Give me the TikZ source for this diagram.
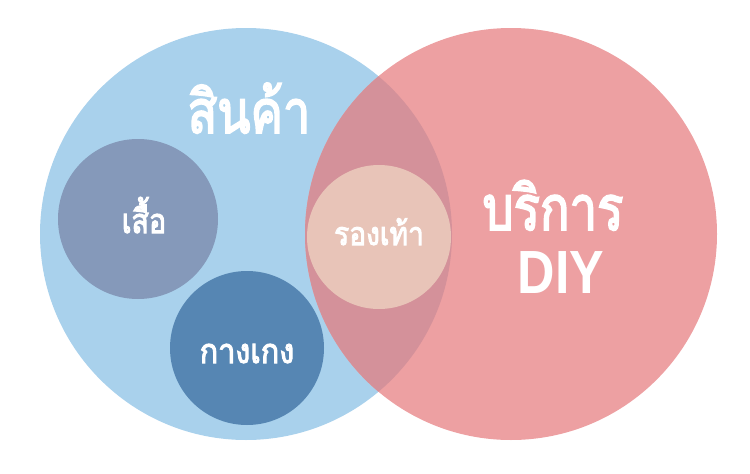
\documentclass[tikz,border=0pt]{standalone}
\usepackage{graphicx}
\usepackage{fontspec}
\newfontfamily\thaifont[Script=Thai, FakeBold=3.2]{Loma}
\newfontfamily\latinfont{Liberation Sans}
\usetikzlibrary{positioning}
\definecolor{goodsblue}{HTML}{A9D1EC}
\definecolor{diypink}{HTML}{EDA0A2}
\definecolor{bothrose}{HTML}{D4919A}
\definecolor{shirtgrey}{HTML}{8599BA}
\definecolor{pantsblue}{HTML}{5686B3}
\definecolor{shoepeach}{HTML}{E8C4B8}
\tikzset{
    vlabel/.style={text=white, inner sep=0, align=center, anchor=base, text depth=0pt}
}
\begin{document}
\begin{tikzpicture}[x=1pt, y=-1pt]
    \useasboundingbox (0,0) rectangle (750,474);

    \coordinate (goods) at (246,234);
    \coordinate (diy) at (511,234);
    \coordinate (shirt) at (138,219);
    \coordinate (pants) at (247,348);
    \coordinate (shoes) at (379,237);

    % big sets
    \fill[goodsblue] (goods) circle (206);
    \fill[diypink] (diy) circle (206);

    % overlap
    \begin{scope}
        \clip (goods) circle (206);
        \fill[bothrose] (diy) circle (206);
    \end{scope}

    % small sets
    \foreach \point/\r/\co in {
        shirt/80/shirtgrey,
        pants/77/pantsblue,
        shoes/72/shoepeach}{
        \fill[\co] (\point) circle (\r);
    }

    % labels
    \foreach \name/\x/\y/\size/\sq/\txt in {
        tgoods/249/133/60/0.81/สินค้า,
        tshirt/144/233/34/0.84/เสื้อ,
        tpants/247/363/34/0.9/กางเกง,
        tshoes/379/245/32/0.88/รองเท้า,
        tdiy/553/230/62/0.79/บริการ}{
        \node[vlabel, font=\thaifont\fontsize{\size}{\size}\selectfont] (\name) at (\x,\y) {\scalebox{\sq}[1]{\txt}};
    }
    \node[vlabel, font=\latinfont\bfseries\fontsize{61}{61}\selectfont] (tdiy2) at (561,293) {\scalebox{0.85}[1]{DIY}};
\end{tikzpicture}
\end{document}
